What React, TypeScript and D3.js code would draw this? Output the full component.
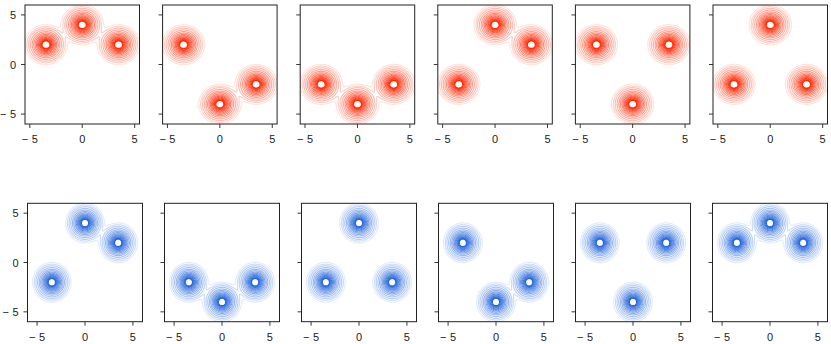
import React from 'react';
import * as d3 from 'd3';

const width = 831;
const height = 344;

// blob centres sit on a hexagon of radius 4
const centers: [number, number][] = [
  [0, 4],
  [3.46, 2],
  [3.46, -2],
  [0, -4],
  [-3.46, -2],
  [-3.46, 2]
];
// which centres each panel uses
const redPanels = [[5, 0, 1], [5, 3, 2], [4, 3, 2], [0, 1, 4], [5, 1, 3], [0, 4, 2]];
const bluePanels = [[0, 1, 4], [4, 3, 2], [0, 4, 2], [5, 3, 2], [5, 1, 3], [5, 0, 1]];

const levels = [0.02, 0.04, 0.07, 0.12, 0.19, 0.27, 0.36, 0.45, 0.54, 0.62, 0.7, 0.77, 0.83, 0.87];
const xTicks = [-5, 0, 5];
const yTicks = [-5, 0, 5];
const sigma = 0.72;

const rows = [
  { panels: redPanels, top: 5, h: 119, left: 25, w: 114.5, step: 137.6, xMax: 5.46, yMax: 6, lo: '#fde5df', hi: '#ff2a05' },
  { panels: bluePanels, top: 203.3, h: 118.4, left: 27.5, w: 115, step: 137, xMax: 6, yMax: 6, lo: '#e3ecfb', hi: '#2566da' }
];

// sampling grid
const g = 0.04;
const g0 = -6.6;
const n = Math.ceil(13.2 / g) + 1;

function field(idx: number[]) {
  const vals = new Float64Array(n * n);
  for (let j = 0; j < n; j++) {
    const y = -g0 - j * g;
    for (let i = 0; i < n; i++) {
      const x = g0 + i * g;
      let v = 0;
      for (const k of idx) {
        const dx = x - centers[k][0];
        const dy = y - centers[k][1];
        v += Math.exp(-(dx * dx + dy * dy) / (2 * sigma * sigma));
      }
      vals[j * n + i] = v;
    }
  }
  return d3.contours().size([n, n]).thresholds(levels)(Array.from(vals));
}

const fmt = (v: number) =>
  v < 0 ? (
    <>
      {'\u2212'}
      <tspan dx={3.5}>{Math.abs(v)}</tspan>
    </>
  ) : (
    String(v)
  );

function Panel({ row, col, idx, r }: any) {
  const x0 = r.left + col * r.step;
  const xs = d3.scaleLinear().domain([-r.xMax, r.xMax]).range([x0, x0 + r.w]);
  const ys = d3.scaleLinear().domain([-r.yMax, r.yMax]).range([r.top + r.h, r.top]);
  const path = d3.geoPath(
    d3.geoTransform({
      point(px: number, py: number) {
        this.stream.point(xs(g0 + (px - 0.5) * g), ys(-g0 - (py - 0.5) * g));
      }
    })
  );
  const color = (i: number) => d3.interpolateRgb(r.lo, r.hi)(Math.pow(i / (levels.length - 1), 0.85));
  const cs = field(idx);
  const clip = `clip-${row}-${col}`;
  return (
    <g>
      <clipPath id={clip}>
        <rect x={x0} y={r.top} width={r.w} height={r.h} />
      </clipPath>
      <g clipPath={`url(#${clip})`}>
        {cs.map((c, i) => (
          <path key={i} d={path(c as any) || ''} fill="none" stroke={color(i)} strokeWidth={1.2} />
        ))}
      </g>
      <rect x={x0} y={r.top} width={r.w} height={r.h} fill="none" stroke="#222" strokeWidth={1} />
      {xTicks.map(t => (
        <g key={'x' + t}>
          <line x1={xs(t)} x2={xs(t)} y1={r.top + r.h} y2={r.top + r.h + 4} stroke="#222" strokeWidth={0.9} />
          <text x={xs(t)} y={r.top + r.h + 19} textAnchor="middle" fontSize={11}>
            {fmt(t)}
          </text>
        </g>
      ))}
      {yTicks.map(t => (
        <g key={'y' + t}>
          <line x1={x0 - 4} x2={x0} y1={ys(t)} y2={ys(t)} stroke="#222" strokeWidth={0.9} />
          {col === 0 && (
            <text x={x0 - 9} y={ys(t) + 4} textAnchor="end" fontSize={11}>
              {fmt(t)}
            </text>
          )}
        </g>
      ))}
    </g>
  );
}

export default function App() {
  return (
    <svg
      width={width}
      height={height}
      style={{ position: 'absolute', left: 0, top: 0, background: '#fff' }}
      fontFamily="'Liberation Sans', Arial, sans-serif"
      fill="#222"
    >
      {rows.map((r, ri) =>
        r.panels.map((idx, ci) => <Panel key={ri + '-' + ci} row={ri} col={ci} idx={idx} r={r} />)
      )}
    </svg>
  );
}
